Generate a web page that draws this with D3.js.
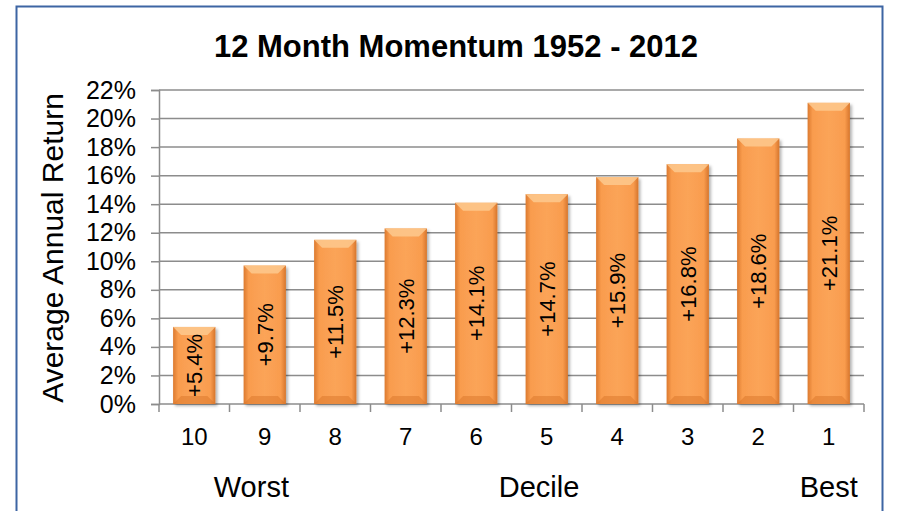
<!DOCTYPE html>
<html>
<head>
<meta charset="utf-8">
<script src="https://cdn.jsdelivr.net/npm/d3@7"></script>
<style>
  body { margin: 0; background: #fff; }
  svg { display: block; font-family: "Liberation Sans", Arial, sans-serif; }
</style>
</head>
<body>
<div id="chart"></div>
<script>
const deciles = ["10", "9", "8", "7", "6", "5", "4", "3", "2", "1"];
const returns = [5.4, 9.7, 11.5, 12.3, 14.1, 14.7, 15.9, 16.8, 18.6, 21.1];
const yTicks = [0, 2, 4, 6, 8, 10, 12, 14, 16, 18, 20, 22];
const groupLabels = [
    { text: "Worst", at: "9", offset: -0.19 },
    { text: "Decile", at: "5", offset: -0.11 },
    { text: "Best", at: "1", offset: 0 }
];

const width = 899;
const height = 511;
const margins = { top: 90, right: 35, bottom: 107, left: 159 };

const data = deciles.map((d, i) => ({ name: d, value: returns[i] }));

const svg = d3.select("#chart")
    .append("svg")
    .attr("width", width)
    .attr("height", height);

// gradient for the bevelled orange bars
const defs = svg.append("defs");
const grad = defs.append("linearGradient")
    .attr("id", "barGrad")
    .attr("x1", "0").attr("x2", "1").attr("y1", "0").attr("y2", "0");
grad.append("stop").attr("offset", "0%").attr("stop-color", "#dc7a2e");
grad.append("stop").attr("offset", "12%").attr("stop-color", "#f99c4e");
grad.append("stop").attr("offset", "50%").attr("stop-color", "#fba458");
grad.append("stop").attr("offset", "88%").attr("stop-color", "#f99c4e");
grad.append("stop").attr("offset", "100%").attr("stop-color", "#d6752c");

const shadow = defs.append("filter").attr("id", "barShadow")
    .attr("x", "-20%").attr("y", "-10%").attr("width", "150%").attr("height", "130%");
shadow.append("feDropShadow")
    .attr("dx", 2).attr("dy", 2).attr("stdDeviation", 1.5)
    .attr("flood-color", "#000").attr("flood-opacity", 0.3);

// outer frame
svg.append("rect")
    .attr("x", 16.5)
    .attr("y", 6.5)
    .attr("width", 866)
    .attr("height", 520)
    .attr("fill", "none")
    .attr("stroke", "#3d65a3")
    .attr("stroke-width", 2);

const x = d3.scaleBand()
    .domain(deciles)
    .range([margins.left, width - margins.right])
    .paddingInner(0.4)
    .paddingOuter(0.2);

const y = d3.scaleLinear()
    .domain([0, 22])
    .range([height - margins.bottom, margins.top]);

// gridlines
svg.append("g")
    .selectAll("line")
    .data(yTicks.filter(d => d > 0))
    .join("line")
    .attr("x1", margins.left)
    .attr("x2", width - margins.right)
    .attr("y1", d => y(d))
    .attr("y2", d => y(d))
    .attr("stroke", "#8c8c8c")
    .attr("stroke-width", 1.5);

// y axis
const gy = svg.append("g")
    .attr("transform", `translate(${margins.left},0)`)
    .call(d3.axisLeft(y)
        .tickValues(yTicks)
        .tickSize(8)
        .tickPadding(15)
        .tickFormat(d => d + "%"));
gy.select(".domain").attr("stroke", "#8c8c8c").attr("stroke-width", 1.5);
gy.selectAll(".tick line").attr("stroke", "#8c8c8c").attr("stroke-width", 1.5);
gy.selectAll(".tick text")
    .attr("font-size", 25)
    .attr("fill", "#000")
    .attr("font-family", "Liberation Sans, Arial, sans-serif");

// x axis with ticks at band boundaries
const gx = svg.append("g")
    .attr("transform", `translate(0,${y(0)})`);
gx.append("line")
    .attr("x1", margins.left)
    .attr("x2", width - margins.right)
    .attr("stroke", "#8c8c8c")
    .attr("stroke-width", 1.5);
const step = x.step();
gx.selectAll("line.tick")
    .data(d3.range(deciles.length + 1))
    .join("line")
    .attr("class", "tick")
    .attr("x1", i => margins.left + i * (width - margins.right - margins.left) / deciles.length)
    .attr("x2", i => margins.left + i * (width - margins.right - margins.left) / deciles.length)
    .attr("y1", 0)
    .attr("y2", 8)
    .attr("stroke", "#8c8c8c")
    .attr("stroke-width", 1.5);
gx.selectAll("text")
    .data(deciles)
    .join("text")
    .attr("x", d => x(d) + x.bandwidth() / 2)
    .attr("y", 41)
    .attr("text-anchor", "middle")
    .attr("font-size", 24)
    .text(d => d);

// bars
const bars = svg.append("g")
    .selectAll("g")
    .data(data)
    .join("g");

bars.append("rect")
    .attr("x", d => x(d.name))
    .attr("y", d => y(d.value))
    .attr("width", x.bandwidth())
    .attr("height", d => y(0) - y(d.value))
    .attr("fill", "url(#barGrad)")
    .attr("filter", "url(#barShadow)");

// top bevel highlight
bars.append("path")
    .attr("d", d => {
        const x0 = x(d.name), x1 = x0 + x.bandwidth(), t = y(d.value), b = 8;
        return `M${x0},${t}L${x1},${t}L${x1 - b},${t + b}L${x0 + b},${t + b}Z`;
    })
    .attr("fill", "#fdc98e")
    .attr("opacity", 0.85);

// bottom bevel shade
bars.append("path")
    .attr("d", d => {
        const x0 = x(d.name), x1 = x0 + x.bandwidth(), bt = y(0), b = 8;
        return `M${x0},${bt}L${x1},${bt}L${x1 - b},${bt - b}L${x0 + b},${bt - b}Z`;
    })
    .attr("fill", "#d97529")
    .attr("opacity", 0.5);

bars.append("text")
    .attr("transform", d => {
        const cx = x(d.name) + x.bandwidth() / 2;
        const cy = (y(d.value) + y(0)) / 2;
        return `translate(${cx + 8},${cy}) rotate(-90)`;
    })
    .attr("text-anchor", "middle")
    .attr("font-size", 22)
    .attr("fill", "#000")
    .text(d => "+" + d.value.toFixed(1) + "%");

// title
svg.append("text")
    .attr("x", 456)
    .attr("y", 57)
    .attr("text-anchor", "middle")
    .attr("font-size", 31)
    .attr("font-weight", "bold")
    .text("12 Month Momentum 1952 - 2012");

// y axis title
svg.append("text")
    .attr("transform", `translate(63,${y(11) + 1}) rotate(-90)`)
    .attr("text-anchor", "middle")
    .attr("font-size", 30)
    .text("Average Annual Return");

// group labels under the decile numbers
svg.append("g")
    .selectAll("text")
    .data(groupLabels)
    .join("text")
    .attr("x", d => x(d.at) + x.bandwidth() / 2 + d.offset * step)
    .attr("y", y(0) + 93)
    .attr("text-anchor", "middle")
    .attr("font-size", 29)
    .text(d => d.text);
</script>
</body>
</html>
